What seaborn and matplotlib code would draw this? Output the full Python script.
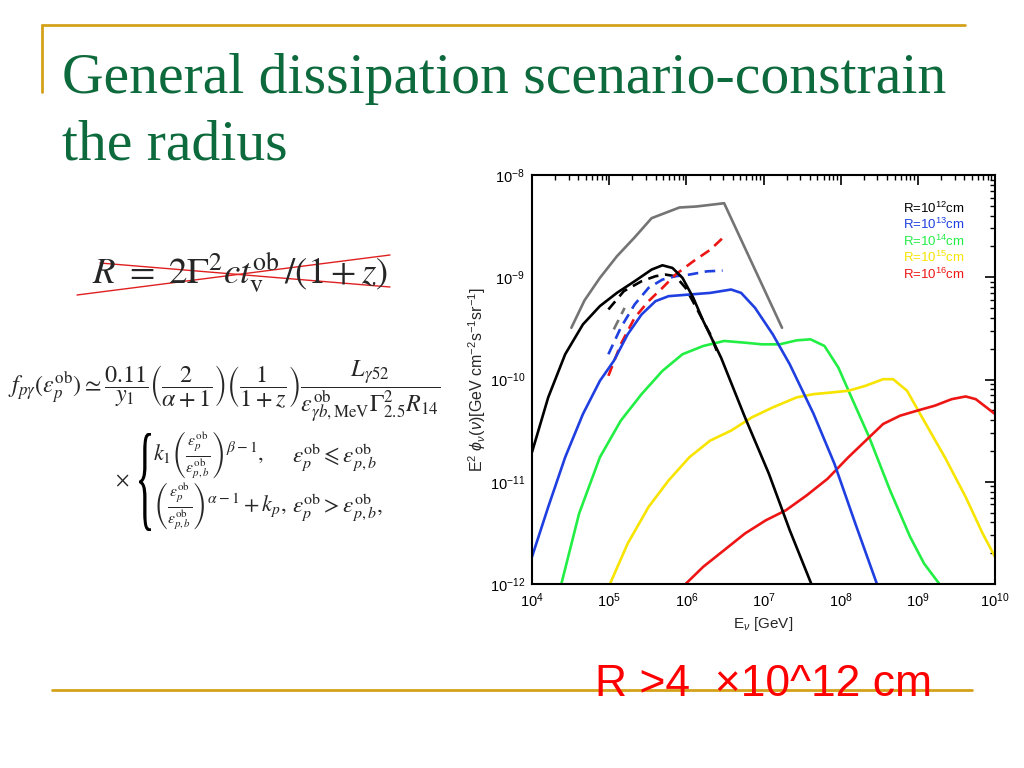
import numpy as np
import pandas as pd
import matplotlib
matplotlib.use("Agg")
import matplotlib.pyplot as plt
from matplotlib.lines import Line2D
from matplotlib.patches import PathPatch
from matplotlib.textpath import TextPath
from matplotlib.font_manager import FontProperties
from matplotlib.transforms import Affine2D
from matplotlib.ticker import LogLocator, NullFormatter
import seaborn as sns

# values, as log10(E) and log10(E^2 phi)
gray_x = [4.51, 4.68, 4.88, 5.10, 5.33, 5.55, 5.91, 6.13, 6.49, 7.24]
gray_y = [-9.494, -9.227, -9.006, -8.795, -8.610, -8.422, -8.318, -8.308, -8.276, -9.494]

black_x = [4.0, 4.21, 4.43, 4.66, 4.88, 5.10, 5.33, 5.55, 5.69, 5.82, 5.95, 6.09, 6.22,
           6.45, 6.76, 7.07, 7.34, 7.62]
black_y = [-10.711, -10.175, -9.753, -9.461, -9.282, -9.153, -9.039, -8.925, -8.883, -8.909,
           -9.006, -9.201, -9.429, -9.786, -10.37, -10.922, -11.474, -12.0]

black_dash_x = [4.99, 5.19, 5.42, 5.60, 5.73, 5.86, 5.99, 6.13, 6.31, 6.42]
black_dash_y = [-9.315, -9.136, -9.039, -8.990, -8.974, -8.990, -9.104, -9.299, -9.558, -9.769]

blue_x = [4.0, 4.21, 4.43, 4.66, 4.88, 5.06, 5.24, 5.42, 5.60, 5.77, 6.04, 6.31, 6.58, 6.71,
          6.89, 7.12, 7.34, 7.65, 7.92, 8.19, 8.47]
blue_y = [-11.734, -11.247, -10.760, -10.338, -10.013, -9.818, -9.558, -9.364, -9.234, -9.185,
          -9.169, -9.153, -9.120, -9.153, -9.299, -9.558, -9.851, -10.338, -10.825, -11.409, -12.0]

blue_dash_x = [4.99, 5.15, 5.33, 5.51, 5.69, 5.86, 6.04, 6.27, 6.47]
blue_dash_y = [-9.753, -9.494, -9.266, -9.104, -9.023, -8.990, -8.974, -8.942, -8.935]

red_dash_x = [4.99, 5.15, 5.33, 5.51, 5.69, 5.86, 6.09, 6.31, 6.47]
red_dash_y = [-9.964, -9.656, -9.396, -9.234, -9.104, -8.974, -8.844, -8.731, -8.617]

gray_dash_x = [5.06, 5.20]
gray_dash_y = [-9.51, -9.30]

green_x = [4.38, 4.61, 4.88, 5.15, 5.42, 5.69, 5.95, 6.22, 6.49, 6.76, 6.98, 7.21, 7.43, 7.61,
           7.79, 7.97, 8.14, 8.37, 8.64, 8.90, 9.08, 9.28]
green_y = [-12.0, -11.312, -10.760, -10.403, -10.143, -9.916, -9.753, -9.672, -9.623, -9.640,
           -9.656, -9.656, -9.617, -9.607, -9.672, -9.883, -10.175, -10.565, -11.084, -11.539,
           -11.799, -12.0]

yellow_x = [5.01, 5.24, 5.51, 5.77, 6.04, 6.31, 6.58, 6.85, 7.12, 7.43, 7.65, 7.88, 8.10, 8.32,
            8.55, 8.68, 8.86, 9.08, 9.35, 9.62, 9.84, 10.0]
yellow_y = [-12.0, -11.604, -11.247, -10.987, -10.760, -10.597, -10.5, -10.37, -10.273, -10.175,
            -10.143, -10.127, -10.110, -10.062, -9.997, -9.997, -10.110, -10.403, -10.760,
            -11.149, -11.506, -11.734]

red_x = [5.99, 6.22, 6.49, 6.76, 7.03, 7.29, 7.56, 7.83, 8.10, 8.37, 8.55, 8.77, 8.99, 9.22,
         9.44, 9.62, 9.75, 9.89, 10.0]
red_y = [-12.0, -11.831, -11.669, -11.506, -11.377, -11.279, -11.133, -10.971, -10.760, -10.565,
         -10.435, -10.354, -10.305, -10.256, -10.192, -10.166, -10.192, -10.273, -10.338]

legend_labels = [r"R=10$^{12}$cm", r"R=10$^{13}$cm", r"R=10$^{14}$cm",
                 r"R=10$^{15}$cm", r"R=10$^{16}$cm"]

c_black = "#000000"
c_blue = "#1f3fe0"
c_green = "#22ee44"
c_yellow = "#f7e400"
c_red = "#ee1515"
c_gray = "#747474"
legend_colors = [c_black, c_blue, c_green, c_yellow, c_red]

sns.set_style("white")
plt.rcParams["font.family"] = ["Liberation Sans", "DejaVu Sans"]
plt.rcParams["mathtext.fontset"] = "custom"
plt.rcParams["mathtext.rm"] = "Liberation Sans"
plt.rcParams["mathtext.it"] = "Liberation Sans:italic"
plt.rcParams["mathtext.bf"] = "Liberation Sans:bold"

fig = plt.figure(figsize=(10.24, 7.68), dpi=100)
fig.patch.set_facecolor("white")
ax = fig.add_axes([532 / 1024, 1 - 584 / 768, 463 / 1024, 409 / 768])

curves = [
    (gray_x, gray_y, c_gray, "-"),
    (gray_dash_x, gray_dash_y, c_gray, "--"),
    (black_dash_x, black_dash_y, c_black, "--"),
    (blue_dash_x, blue_dash_y, c_blue, "--"),
    (red_dash_x, red_dash_y, c_red, "--"),
    (green_x, green_y, c_green, "-"),
    (yellow_x, yellow_y, c_yellow, "-"),
    (red_x, red_y, c_red, "-"),
    (blue_x, blue_y, c_blue, "-"),
    (black_x, black_y, c_black, "-"),
]
for xs, ys, col, ls in curves:
    df = pd.DataFrame({"E": 10.0 ** np.array(xs), "F": 10.0 ** np.array(ys)})
    sns.lineplot(data=df, x="E", y="F", sort=False, estimator=None, color=col,
                 lw=1.9, ax=ax)
    if ls == "--":
        ax.lines[-1].set_dashes((4, 2.5))

ax.set_xscale("log")
ax.set_yscale("log")
ax.set_xlim(1e4, 1e10)
ax.set_ylim(1e-12, 1e-8)
ax.xaxis.set_major_locator(LogLocator(base=10, numticks=20))
ax.yaxis.set_major_locator(LogLocator(base=10, numticks=20))
ax.xaxis.set_minor_locator(LogLocator(base=10, subs=np.arange(2, 10), numticks=100))
ax.yaxis.set_minor_locator(LogLocator(base=10, subs=np.arange(2, 10), numticks=100))
ax.xaxis.set_minor_formatter(NullFormatter())
ax.yaxis.set_minor_formatter(NullFormatter())
ax.tick_params(which="both", direction="in", top=True, right=True, labelsize=10.5,
               colors="black")
ax.tick_params(which="major", length=7, width=1.2, pad=5)
ax.tick_params(which="minor", length=3.5, width=1)
for s in ax.spines.values():
    s.set_linewidth(1.5)
    s.set_color("black")
ax.set_xlabel(r"E$_\nu$ [GeV]", fontsize=11)
ax.xaxis.set_label_coords(0.5, -0.075)
ax.set_ylabel(r"E$^2$ $\phi_\nu$($\nu$)[GeV cm$^{-2}$s$^{-1}$sr$^{-1}$]", fontsize=11.5)
ax.yaxis.set_label_coords(-0.095, 0.5)

for i, (lab, col) in enumerate(zip(legend_labels, legend_colors)):
    ax.text(0.801, 0.919 - i * 0.0405, lab, color=col, fontsize=9.5, transform=ax.transAxes,
            va="center", ha="left")

# slide decorations
gold = "#d4a21a"
fig.add_artist(Line2D([42 / 1024, 965 / 1024], [1 - 25 / 768, 1 - 25 / 768], color=gold, lw=2))
fig.add_artist(Line2D([42 / 1024, 42 / 1024], [1 - 25 / 768, 1 - 92 / 768], color=gold, lw=2))
fig.add_artist(Line2D([52 / 1024, 972 / 1024], [1 - 690 / 768, 1 - 690 / 768], color=gold, lw=2))

title_color = "#0d6a3c"
fig.text(62 / 1024, 1 - 93 / 768, "General dissipation scenario-constrain",
         fontsize=41.5, color=title_color, family="Liberation Serif", va="baseline")
fig.text(62 / 1024, 1 - 160 / 768, "the radius",
         fontsize=41.5, color=title_color, family="Liberation Serif", va="baseline")

serif_math = {"mathtext.fontset": "stix"}
with plt.rc_context(serif_math):
    fig.text(240 / 1024, 1 - 272 / 768, r"$R\ =\ 2\Gamma^2 c t_{\rm v}^{\rm ob}\,/(1+z)$",
             fontsize=26.5, ha="center", va="center")
    fig.text(8 / 1024, 1 - 392 / 768,
             r"$f_{p\gamma}(\epsilon_p^{\rm ob}) \simeq \dfrac{0.11}{y_1}"
             r"\left(\dfrac{2}{\alpha+1}\right)\left(\dfrac{1}{1+z}\right)"
             r"\dfrac{L_{\gamma 52}}{\epsilon^{\rm ob}_{\gamma b,{\rm MeV}}\Gamma^2_{2.5}R_{14}}$",
             fontsize=17.3, ha="left", va="center")
    fig.text(122 / 1024, 1 - 481 / 768, r"$\times$", fontsize=15, ha="center", va="center")
    fig.text(153 / 1024, 1 - 455 / 768,
             r"$k_1\left(\frac{\epsilon_p^{\rm ob}}{\epsilon_{p,b}^{\rm ob}}\right)^{\beta-1},$",
             fontsize=16, ha="left", va="center")
    fig.text(292 / 1024, 1 - 458 / 768,
             r"$\epsilon_p^{\rm ob}\leqslant\epsilon_{p,b}^{\rm ob}$",
             fontsize=16.5, ha="left", va="center")
    fig.text(153 / 1024, 1 - 506 / 768,
             r"$\left(\frac{\epsilon_p^{\rm ob}}{\epsilon_{p,b}^{\rm ob}}\right)^{\alpha-1}+k_p,$",
             fontsize=16, ha="left", va="center")
    fig.text(292 / 1024, 1 - 508 / 768,
             r"$\epsilon_p^{\rm ob}>\epsilon_{p,b}^{\rm ob},$",
             fontsize=16.5, ha="left", va="center")

# tall thin brace for the cases block
brace = TextPath((0, 0), "{", size=100, prop=FontProperties(family="Liberation Serif"))
bb = brace.get_extents()
brace_tr = (Affine2D().translate(-bb.x0, -bb.y0)
            .scale(12 / 1024 / bb.width, 98 / 768 / bb.height)
            .translate(139 / 1024, (768 - 531) / 768))
fig.add_artist(PathPatch(brace_tr.transform_path(brace), facecolor="black", lw=0,
                         transform=fig.transFigure))

# red crossing lines over the first equation
fig.add_artist(Line2D([77 / 1024, 390 / 1024], [1 - 295 / 768, 1 - 255 / 768], color="#e02020", lw=1))
fig.add_artist(Line2D([100 / 1024, 390 / 1024], [1 - 263 / 768, 1 - 287 / 768], color="#e02020", lw=1))

fig.text(595 / 1024, 1 - 685 / 768, "R >4  \u00d710^12 cm", fontsize=32, color="#ff0000",
         family="Liberation Sans", va="center", ha="left")

fig.savefig("out.png", dpi=100, facecolor="white")
